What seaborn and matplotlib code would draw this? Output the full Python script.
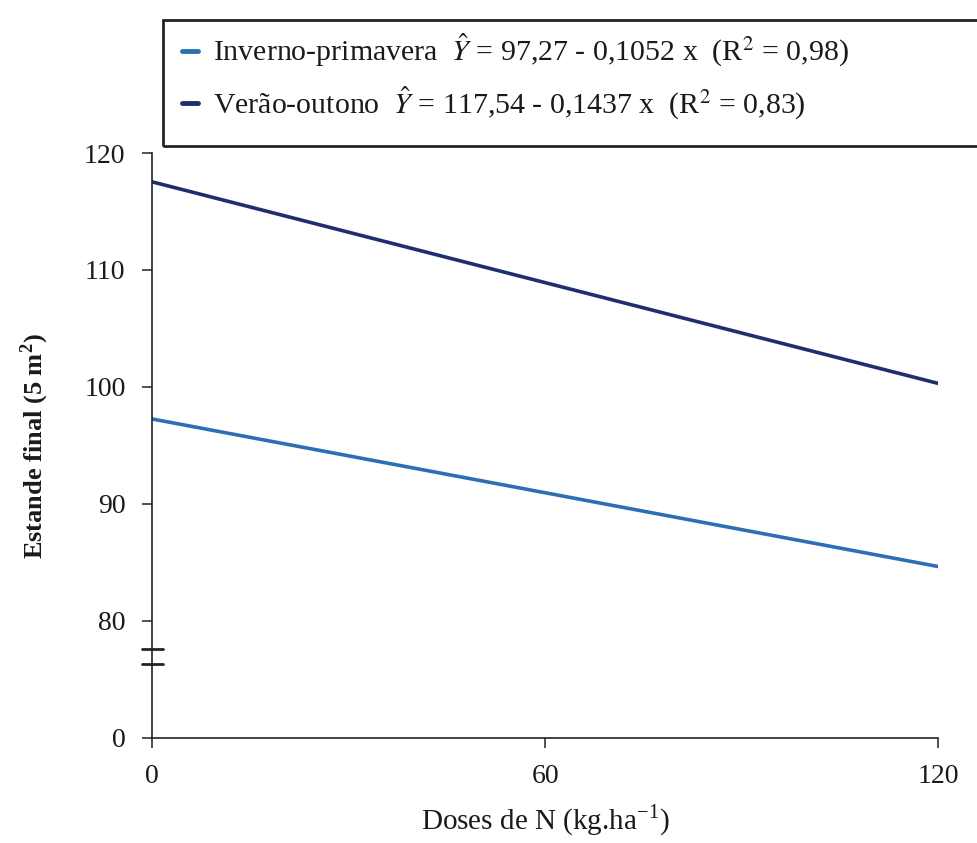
import matplotlib
matplotlib.use("Agg")
import matplotlib.pyplot as plt
import matplotlib.transforms as mtransforms
from matplotlib.patches import Rectangle
from matplotlib.lines import Line2D
import seaborn as sns
import pandas as pd

# Nitrogen doses (kg/ha) and fitted stand values at the ends of the range
doses = [0, 120]
inverno_primavera = [97.27, 84.65]
verao_outono = [117.54, 100.30]

season_names = ["Inverno-primavera", "Verão-outono"]
equations = [
    r"$\hat{Y}$ = 97,27 - 0,1052 x  (R$^2$ = 0,98)",
    r"$\hat{Y}$ = 117,54 - 0,1437 x  (R$^2$ = 0,83)",
]
colors = ["#2c6fb5", "#1f2f6e"]

y_ticks = [70, 80, 90, 100, 110, 120]
y_tick_labels = ["0", "80", "90", "100", "110", "120"]
x_ticks = [0, 60, 120]

sns.set_theme(style="ticks")
plt.rcParams["font.family"] = ["Liberation Serif", "DejaVu Serif"]
plt.rcParams["mathtext.fontset"] = "stix"

df = pd.DataFrame({
    "dose": doses * 2,
    "estande": inverno_primavera + verao_outono,
    "epoca": [season_names[0]] * len(doses) + [season_names[1]] * len(doses),
})

fig = plt.figure(figsize=(9.77, 8.43), dpi=100)
ax = fig.add_axes([0.1555, 0.1246, 0.805, 0.6939])

sns.lineplot(data=df, x="dose", y="estande", hue="epoca",
             palette=dict(zip(season_names, colors)), linewidth=2.6,
             legend=False, ax=ax)

ax.set_xlim(0, 120)
ax.set_ylim(70, 120)
ax.set_xticks(x_ticks)
ax.set_xticklabels([str(v) for v in x_ticks])
ax.set_yticks(y_ticks)
ax.set_yticklabels(y_tick_labels)
ax.tick_params(axis="both", labelsize=20, length=7, width=1.1, color="#222222",
               labelcolor="#1a1a1a")
ax.tick_params(axis="x", pad=12)
ax.tick_params(axis="y", pad=12)
for side in ["top", "right"]:
    ax.spines[side].set_visible(False)
for side in ["left", "bottom"]:
    ax.spines[side].set_linewidth(1.2)
    ax.spines[side].set_color("#222222")

ax.set_xlabel("Doses de N (kg.ha$^{\\mathregular{-1}}$)", fontsize=21, labelpad=10,
              color="#1a1a1a")
ax.set_ylabel("Estande final (5 m$^{\\mathregular{2}}$)", fontsize=19,
              fontweight="bold", labelpad=24, color="#1a1a1a")

# Axis break marks between 0 and 80
trans = mtransforms.blended_transform_factory(ax.transAxes, ax.transData)
for yb in (77.6, 76.3):
    ax.plot([-0.012, 0.014], [yb, yb], transform=trans, color="#222222",
            lw=2.0, clip_on=False)

# Legend box with equations
fig.patches.append(Rectangle((163 / 977, 1 - 146 / 843), 0.9, 126 / 843,
                             transform=fig.transFigure, fill=False,
                             edgecolor="#222222", lw=2.0))
handles = [Line2D([], [], color=c, lw=3.5) for c in colors]
labels = [f"{n}  {e}" for n, e in zip(season_names, equations)]
leg = fig.legend(handles, labels, loc="upper left",
                 bbox_to_anchor=(170 / 977, 1 - 20 / 843),
                 frameon=False, fontsize=21.5, handlelength=0.55,
                 handletextpad=0.5, labelspacing=0.5, borderaxespad=0)
for t in leg.get_texts():
    t.set_color("#1a1a1a")

fig.savefig("out.png", dpi=100, facecolor="white")
